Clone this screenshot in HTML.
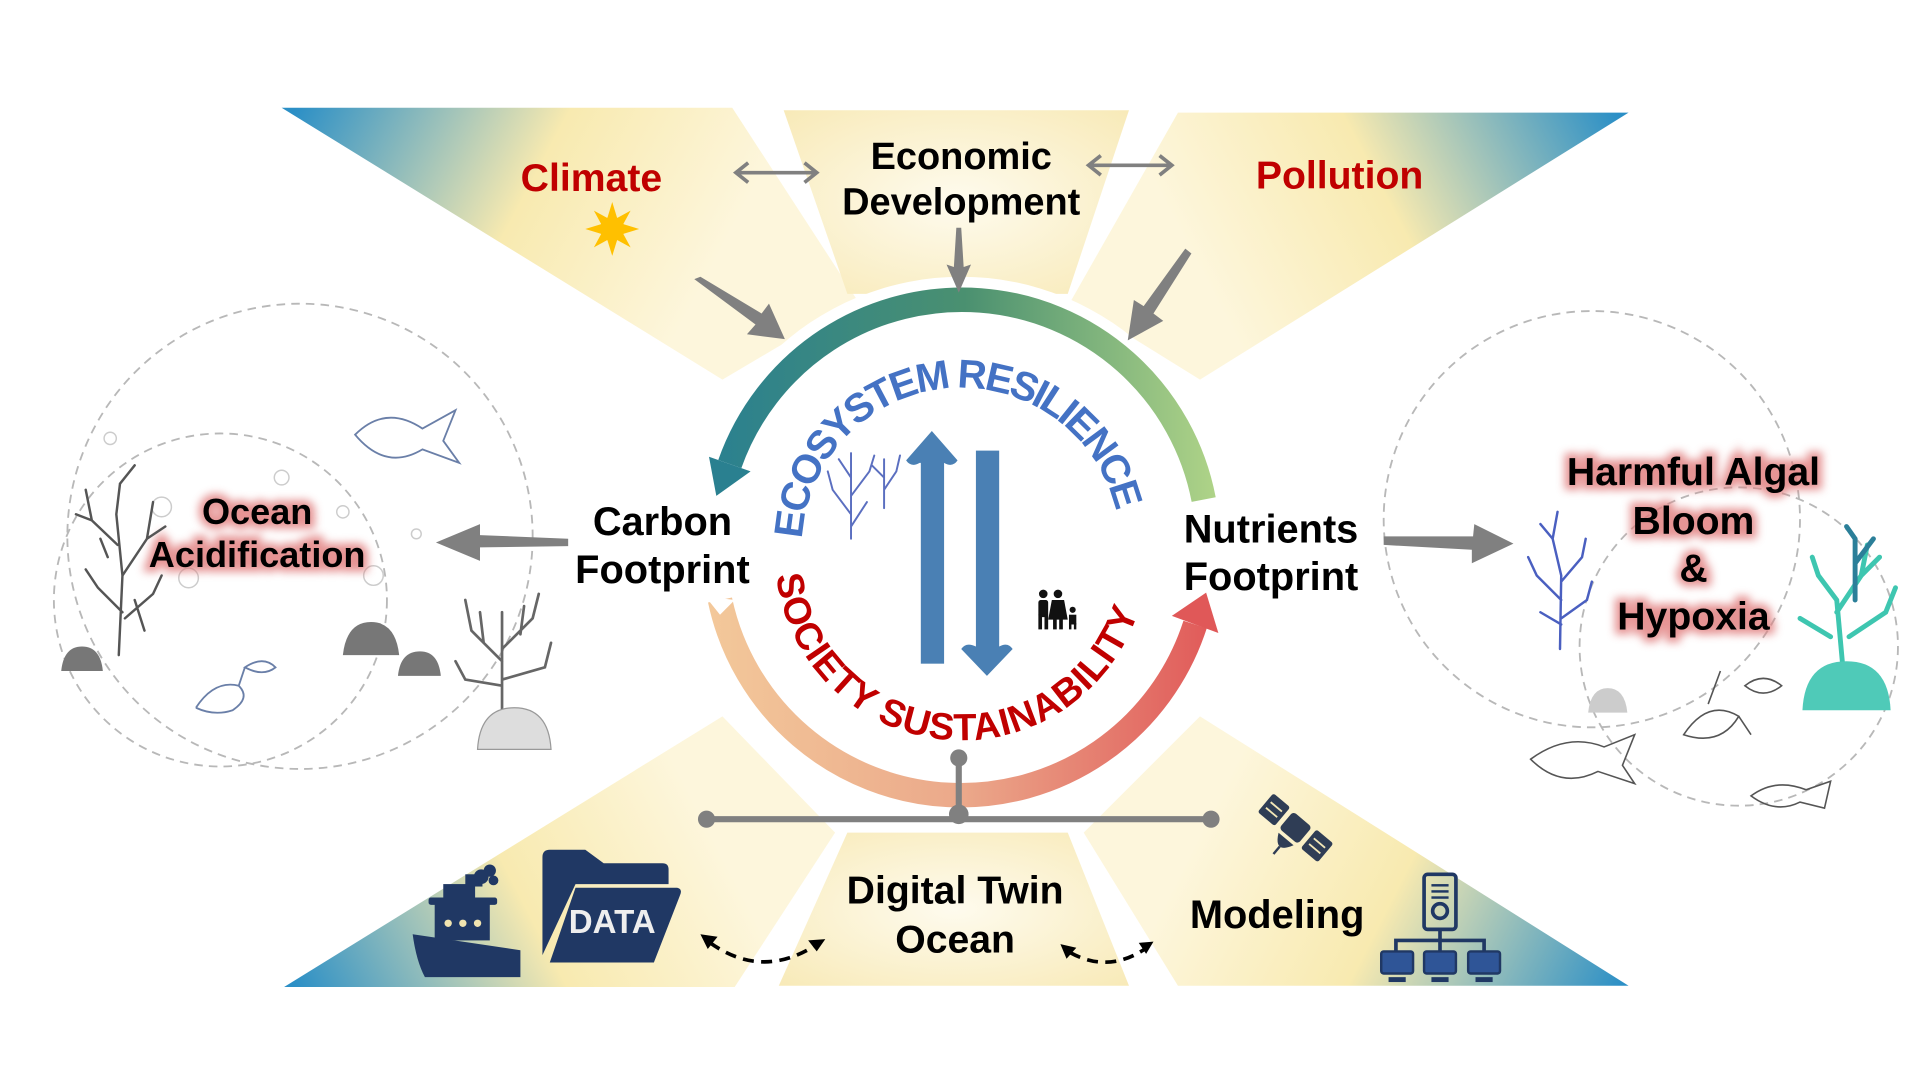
<!DOCTYPE html>
<html><head><meta charset="utf-8"><style>
html,body{margin:0;padding:0;background:#fff;width:1920px;height:1080px;overflow:hidden}
svg{display:block}
text{font-family:"Liberation Sans",Arial,sans-serif;font-weight:bold}
</style></head><body>
<svg width="1920" height="1080" viewBox="0 0 1568 882" xmlns="http://www.w3.org/2000/svg">
<defs>
<linearGradient id="gTL" gradientUnits="userSpaceOnUse" x1="240" y1="90" x2="560" y2="260"><stop offset="0" stop-color="#2b8fc6"/><stop offset="0.55" stop-color="#f8eab0"/><stop offset="1" stop-color="#fdf6dc"/></linearGradient>
<linearGradient id="gTR" gradientUnits="userSpaceOnUse" x1="1320" y1="92" x2="1000" y2="260"><stop offset="0" stop-color="#2b8fc6"/><stop offset="0.55" stop-color="#f8eab0"/><stop offset="1" stop-color="#fdf6dc"/></linearGradient>
<linearGradient id="gBL" gradientUnits="userSpaceOnUse" x1="240" y1="806" x2="560" y2="640"><stop offset="0" stop-color="#2b8fc6"/><stop offset="0.55" stop-color="#f8eab0"/><stop offset="1" stop-color="#fdf6dc"/></linearGradient>
<linearGradient id="gBR" gradientUnits="userSpaceOnUse" x1="1325" y1="806" x2="1000" y2="640"><stop offset="0" stop-color="#2b8fc6"/><stop offset="0.55" stop-color="#f8eab0"/><stop offset="1" stop-color="#fdf6dc"/></linearGradient>
<radialGradient id="gC" cx="0.5" cy="0.5" r="0.7"><stop offset="0" stop-color="#fefbee"/><stop offset="1" stop-color="#f8eab8"/></radialGradient>
<linearGradient id="gTop" gradientUnits="userSpaceOnUse" x1="580" y1="400" x2="995" y2="400"><stop offset="0" stop-color="#2a8090"/><stop offset="0.5" stop-color="#4a9070"/><stop offset="1" stop-color="#b0d488"/></linearGradient>
<linearGradient id="gBot" gradientUnits="userSpaceOnUse" x1="580" y1="500" x2="995" y2="500"><stop offset="0" stop-color="#f3c89a"/><stop offset="0.5" stop-color="#eba88a"/><stop offset="1" stop-color="#e05858"/></linearGradient>
<filter id="glow" x="-20%" y="-30%" width="140%" height="160%"><feGaussianBlur stdDeviation="3.5"/></filter>
<path id="pTop" d="M 655,440 A 130 130 0 0 1 913,425"/>
<path id="pBot" d="M 634,470 A 152 152 0 0 0 936,470"/>
</defs>

<polygon points="230,88 598,88 700,245 590,310" fill="url(#gTL)"/>
<polygon points="640,90 922,90 872,240 692,240" fill="url(#gC)"/>
<polygon points="962,92 1330,92 980,310 875,245" fill="url(#gTR)"/>
<polygon points="232,806 600,806 682,680 590,585" fill="url(#gBL)"/>
<polygon points="636,805 922,805 872,680 692,680" fill="url(#gC)"/>
<polygon points="962,805 1330,805 980,585 885,680" fill="url(#gBR)"/>
<circle cx="785" cy="448" r="222" fill="#fff"/>

<g fill="none" stroke="#b8b8b8" stroke-width="1.5" stroke-dasharray="7,5">
<circle cx="245" cy="438" r="190"/><circle cx="180" cy="490" r="136"/>
<circle cx="1300" cy="424" r="170"/><circle cx="1420" cy="528" r="130"/>
</g>
<g fill="none" stroke="#ccc" stroke-width="1.2">
<circle cx="90" cy="358" r="5"/><circle cx="132" cy="414" r="8"/><circle cx="230" cy="390" r="6"/><circle cx="280" cy="418" r="5"/><circle cx="340" cy="436" r="4"/><circle cx="305" cy="470" r="8"/><circle cx="154" cy="472" r="8"/>
</g>

<path d="M 596,379 A 201 201 0 0 1 983,408" fill="none" stroke="url(#gTop)" stroke-width="20"/>
<polygon points="613,385 579,373 585,405" fill="#2a8090"/>
<path d="M 588,490 A 201 201 0 0 0 976,510" fill="none" stroke="url(#gBot)" stroke-width="20"/>
<polygon points="576,487 600,490 588,502" fill="#fff"/>
<polygon points="995,517 957,503 985,484" fill="#e05858"/>

<text font-size="33" fill="#4472c4"><textPath href="#pTop" textLength="372" lengthAdjust="spacing">ECOSYSTEM RESILIENCE</textPath></text>
<text font-size="31" fill="#c00000"><textPath href="#pBot" textLength="412" lengthAdjust="spacing">SOCIETY SUSTAINABILITY</textPath></text>

<g fill="#4a80b4">
<rect x="752" y="370" width="19" height="172"/>
<path d="M 740,376 L 761,352 L 782,376 Q 778,382 771,378 L 751,378 Q 744,382 740,376 Z"/>
<rect x="797" y="368" width="19" height="168"/>
<path d="M 785,530 L 806,552 L 827,530 Q 823,524 816,528 L 797,528 Q 789,524 785,530 Z"/>
</g>

<g fill="#111">
<circle cx="852" cy="485" r="3.5"/><rect x="848" y="490" width="8" height="14" rx="2"/><rect x="848" y="502" width="3" height="12"/><rect x="853" y="502" width="3" height="12"/>
<circle cx="864" cy="485" r="3.5"/><path d="M 859,490 L 869,490 L 872,506 L 856,506 Z"/><rect x="860" y="505" width="3" height="9"/><rect x="865" y="505" width="3" height="9"/>
<circle cx="876" cy="498" r="2.5"/><rect x="873" y="502" width="6" height="8"/><rect x="873" y="509" width="2" height="5"/><rect x="877" y="509" width="2" height="5"/>
</g>

<g stroke="#5b6fc0" stroke-width="1.6" fill="none" stroke-linecap="round">
<path d="M 695,440 L 695,370 M 695,420 L 680,400 M 695,405 L 710,385 M 695,390 L 685,375 M 680,400 L 676,385 M 710,385 L 714,372 M 695,430 L 708,410"/>
<path d="M 722,415 L 722,375 M 722,400 L 732,385 M 722,390 L 712,380 M 732,385 L 735,372"/>
</g>

<text x="483" y="156" font-size="32" fill="#c00000" text-anchor="middle">Climate</text>
<text x="1094" y="154" font-size="32" fill="#c00000" text-anchor="middle">Pollution</text>
<text x="785" y="138" font-size="31" fill="#000" text-anchor="middle">Economic</text>
<text x="785" y="175" font-size="31" fill="#000" text-anchor="middle">Development</text>
<text x="541" y="437" font-size="32.5" fill="#000" text-anchor="middle">Carbon</text>
<text x="541" y="476" font-size="32.5" fill="#000" text-anchor="middle">Footprint</text>
<text x="1038" y="443" font-size="32.5" fill="#000" text-anchor="middle">Nutrients</text>
<text x="1038" y="482" font-size="32.5" fill="#000" text-anchor="middle">Footprint</text>
<text x="780" y="738" font-size="32" fill="#000" text-anchor="middle">Digital Twin</text>
<text x="780" y="778" font-size="32" fill="#000" text-anchor="middle">Ocean</text>
<text x="1043" y="758" font-size="32.5" fill="#000" text-anchor="middle">Modeling</text>

<g text-anchor="middle">
<g fill="#e07a7a" stroke="#e07a7a" stroke-width="8" filter="url(#glow)" opacity="0.8">
<text x="210" y="428" font-size="29.5">Ocean</text><text x="210" y="463" font-size="29.5">Acidification</text>
<text x="1383" y="396" font-size="32">Harmful Algal</text><text x="1383" y="436" font-size="32">Bloom</text><text x="1383" y="475" font-size="32">&amp;</text><text x="1383" y="514" font-size="32">Hypoxia</text>
</g>
<g fill="#000">
<text x="210" y="428" font-size="29.5">Ocean</text><text x="210" y="463" font-size="29.5">Acidification</text>
<text x="1383" y="396" font-size="32">Harmful Algal</text><text x="1383" y="436" font-size="32">Bloom</text><text x="1383" y="475" font-size="32">&amp;</text><text x="1383" y="514" font-size="32">Hypoxia</text>
</g>
</g>

<g transform="translate(500,187)" fill="#ffc000">
<circle r="10"/>
<polygon points="0,-22 4,-9 -4,-9"/><polygon points="0,22 4,9 -4,9"/><polygon points="-22,0 -9,4 -9,-4"/><polygon points="22,0 9,4 9,-4"/>
<polygon points="-15,-15 -4,-9 -9,-4"/><polygon points="15,-15 4,-9 9,-4"/><polygon points="-15,15 -4,9 -9,4"/><polygon points="15,15 4,9 9,4"/>
</g>

<g stroke="#808080" stroke-width="3" fill="none">
<line x1="603" y1="141" x2="665" y2="141"/><polyline points="611,133 601,141 611,149"/><polyline points="657,133 667,141 657,149"/>
<line x1="891" y1="135" x2="955" y2="135"/><polyline points="899,127 889,135 899,143"/><polyline points="947,127 957,135 947,143"/>
</g>
<g fill="#808080">
<polygon points="781,186 785,186 787,218 793,216 783,239 773,216 779,218"/>
<polygon points="567,228 572,226 622,256 628,248 641,277 610,273 617,265"/>
<polygon points="973,207 968,203 934,250 926,245 921,278 950,262 942,256"/>
<polygon points="464,440 464,446 392,447 392,458 356,443 392,428 392,437"/>
<polygon points="1130,438 1130,445 1202,449 1202,460 1236,444 1204,428 1203,438"/>
</g>

<g stroke="#808080" stroke-width="5" fill="#808080">
<line x1="577" y1="669" x2="989" y2="669"/><line x1="783" y1="619" x2="783" y2="669"/>
</g>
<g fill="#808080"><circle cx="577" cy="669" r="7"/><circle cx="989" cy="669" r="7"/><circle cx="783" cy="665" r="8"/><circle cx="783" cy="619" r="7"/></g>

<g stroke="#000" stroke-width="3" fill="none" stroke-dasharray="9,6">
<path d="M 580,770 Q 622,800 666,772"/>
<path d="M 874,778 Q 905,795 935,775"/>
</g>
<g fill="#000">
<polygon points="572,763 586,765 578,775"/><polygon points="674,767 660,768 667,777"/>
<polygon points="866,771 879,774 871,783"/><polygon points="942,769 930,770 936,779"/>
</g>

<g fill="#203864">
<path d="M 337,763 L 425,776 L 425,798 L 347,798 Q 340,785 337,763 Z"/>
<rect x="355" y="737" width="45" height="31"/><rect x="350" y="733" width="56" height="6" rx="2"/>
<rect x="362" y="722" width="26" height="12"/><rect x="380" y="714" width="14" height="10"/>
<circle cx="393" cy="716" r="6"/><circle cx="400" cy="711" r="5"/><circle cx="403" cy="719" r="4"/>
</g>
<g fill="#f1e4b0"><circle cx="366" cy="754" r="3"/><circle cx="378" cy="754" r="3"/><circle cx="390" cy="754" r="3"/></g>
<path d="M 443,700 Q 443,694 449,694 L 478,694 L 493,705 L 541,705 Q 546,705 546,710 L 546,722 L 470,722 L 443,780 Z" fill="#203864"/>
<path d="M 470,725 L 553,725 Q 558,726 555,732 L 534,786 L 449,786 Z" fill="#203864"/>
<text x="500" y="762" font-size="27" fill="#eee" text-anchor="middle">DATA</text>

<g transform="translate(1058,676) rotate(40)" fill="#2f3d55">
<rect x="-10" y="-9" width="20" height="18" rx="3"/>
<rect x="-32" y="-10" width="18" height="20" rx="2"/><rect x="14" y="-10" width="18" height="20" rx="2"/>
<g stroke="#f3e7b7" stroke-width="1.5"><line x1="-29" y1="-3" x2="-17" y2="-3"/><line x1="-29" y1="3" x2="-17" y2="3"/><line x1="17" y1="-3" x2="29" y2="-3"/><line x1="17" y1="3" x2="29" y2="3"/></g>
<path d="M -8,12 Q 0,28 8,12 Z"/><rect x="-1" y="20" width="2" height="8"/>
</g>
<g fill="none" stroke="#203864" stroke-width="3">
<rect x="1163" y="714" width="26" height="45" rx="3"/>
<circle cx="1176" cy="744" r="6"/>
<line x1="1176" y1="759" x2="1176" y2="768"/><polyline points="1140,778 1140,768 1212,768 1212,778"/><line x1="1176" y1="768" x2="1176" y2="778"/>
</g>
<g fill="#2f5597" stroke="#203864" stroke-width="2">
<rect x="1128" y="777" width="26" height="18" rx="2"/><rect x="1163" y="777" width="26" height="18" rx="2"/><rect x="1199" y="777" width="26" height="18" rx="2"/>
</g>
<g fill="#203864"><rect x="1169" y="722" width="14" height="2"/><rect x="1169" y="727" width="14" height="2"/><rect x="1169" y="732" width="14" height="2"/>
<rect x="1134" y="798" width="14" height="4"/><rect x="1169" y="798" width="14" height="4"/><rect x="1205" y="798" width="14" height="4"/></g>

<g stroke="#555" stroke-width="2" fill="none" stroke-linecap="round">
<path d="M 97,535 L 100,470 L 95,420 L 98,395 M 100,470 L 120,440 L 125,410 M 96,445 L 75,425 L 70,400 M 100,500 L 80,480 L 70,465 M 102,505 L 125,485 L 132,470 M 120,440 L 135,430 M 98,395 L 110,380 M 75,425 L 62,420 M 110,490 L 118,515 M 88,455 L 82,440"/>
</g>
<g fill="#777">
<path d="M 50,548 Q 52,528 67,528 Q 82,528 84,548 Z"/>
<path d="M 280,535 Q 283,508 303,508 Q 323,508 326,535 Z"/>
<path d="M 325,552 Q 327,532 343,532 Q 358,532 360,552 Z"/>
</g>
<g stroke="#666" stroke-width="2.2" fill="none" stroke-linecap="round">
<path d="M 410,580 L 410,500 M 410,540 L 385,515 L 380,490 M 410,530 L 435,505 L 440,485 M 410,560 L 380,555 L 372,540 M 410,555 L 445,545 L 450,525 M 395,525 L 392,500 M 425,518 L 428,495"/>
</g>
<path d="M 390,612 Q 392,578 420,578 Q 448,578 450,612 Z" fill="#ddd" stroke="#999"/>
<g fill="none" stroke="#6a7fa8" stroke-width="1.5">
<path d="M 290,355 Q 315,330 345,350 L 372,335 L 362,360 L 375,378 L 345,367 Q 315,385 290,355 Z"/>
<path d="M 160,578 Q 175,555 195,560 L 200,545 M 195,560 Q 205,570 190,580 Q 175,585 160,578"/>
<path d="M 200,545 Q 215,535 225,545 Q 215,553 200,545 Z"/>
</g>

<g stroke="#4a5fc0" stroke-width="2" fill="none" stroke-linecap="round">
<path d="M 1274,530 L 1275,470 L 1268,440 L 1272,418 M 1275,490 L 1255,470 L 1248,455 M 1275,475 L 1292,455 L 1295,440 M 1275,505 L 1296,490 L 1300,475 M 1275,510 L 1258,500 M 1268,440 L 1258,428"/>
</g>
<g stroke="#3ec6b0" stroke-width="4" fill="none" stroke-linecap="round">
<path d="M 1505,545 L 1500,490 L 1485,470 L 1480,455 M 1500,500 L 1520,470 L 1525,445 M 1510,520 L 1540,500 L 1548,480 M 1495,520 L 1470,505 M 1520,470 L 1535,455"/>
</g>
<g stroke="#2b7f99" stroke-width="4" fill="none" stroke-linecap="round"><path d="M 1515,490 L 1515,440 L 1508,430 M 1515,460 L 1530,440"/></g>
<path d="M 1472,580 Q 1474,540 1508,540 Q 1542,540 1544,580 Z" fill="#4fcab8"/>
<path d="M 1297,582 Q 1299,562 1313,562 Q 1327,562 1329,582 Z" fill="#ccc"/>
<g fill="none" stroke="#555" stroke-width="1.3">
<path d="M 1375,600 Q 1395,570 1420,585 Q 1405,610 1375,600 Z M 1395,575 L 1405,548 M 1420,585 L 1430,600"/>
<path d="M 1425,560 Q 1440,548 1455,560 Q 1440,572 1425,560 Z"/>
<path d="M 1250,620 Q 1280,598 1310,610 L 1335,600 L 1325,625 L 1335,640 L 1305,630 Q 1275,645 1250,620 Z"/>
<path d="M 1430,650 Q 1450,635 1475,645 L 1495,638 L 1490,660 L 1470,655 Q 1450,665 1430,650 Z"/>
</g>
</svg>
</body></html>
